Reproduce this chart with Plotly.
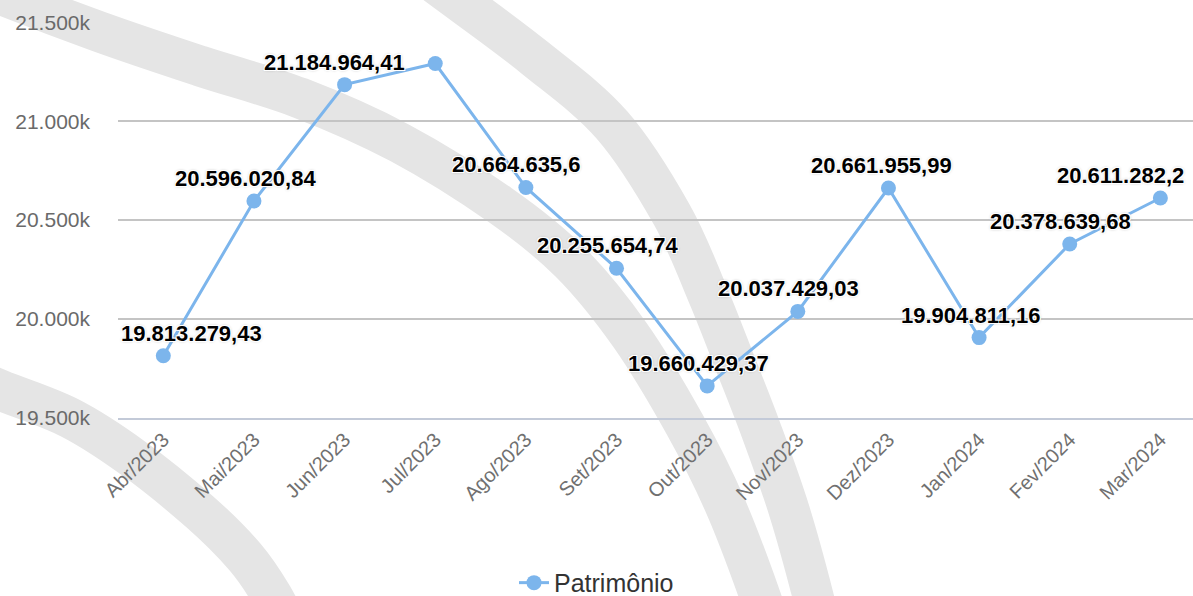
import plotly.graph_objects as go

# ---------------- data ----------------
months = ["Abr/2023", "Mai/2023", "Jun/2023", "Jul/2023", "Ago/2023", "Set/2023",
          "Out/2023", "Nov/2023", "Dez/2023", "Jan/2024", "Fev/2024", "Mar/2024"]
patrimonio = [19813279.43, 20596020.84, 21184964.41, 21292000.00, 20664635.60, 20255654.74,
              19660429.37, 20037429.03, 20661955.99, 19904811.16, 20378639.68, 20611282.20]
hidden_labels = ["Jul/2023"]          # data label not drawn in the reference
y_ticks = [19500000, 20000000, 20500000, 21000000, 21500000]
series_name = "Patrimônio"

# label horizontal nudges (style, px)
label_dx = [28, -8, -10, 0, -10, -9, -9, -9, -7, -9, -9, -40]

FONT = "Liberation Sans, Arial, Helvetica, sans-serif"


def fmt_br(v, decimals=2):
    s = f"{v:,.{decimals}f}"
    s = s.replace(",", "X").replace(".", ",").replace("X", ".")
    if "," in s:
        s = s.rstrip("0").rstrip(",")
    return s


def fmt_k(v):
    return f"{v / 1000:,.0f}".replace(",", ".") + "k"


# ---------------- geometry (plot area in px) ----------------
L, R, T, B = 118, 0, 22, 178
W = 1193 - L - R
H = 596 - T - B


def px2paper(px, py):
    return ((px - L) / W, (T + H - py) / H)


def smooth_path(points):
    pts = [px2paper(*p) for p in points]
    d = f"M {pts[0][0]:.5f},{pts[0][1]:.5f}"
    for i in range(len(pts) - 1):
        p0 = pts[i - 1] if i > 0 else pts[i]
        p1 = pts[i]
        p2 = pts[i + 1]
        p3 = pts[i + 2] if i + 2 < len(pts) else pts[i + 1]
        c1 = (p1[0] + (p2[0] - p0[0]) / 6, p1[1] + (p2[1] - p0[1]) / 6)
        c2 = (p2[0] - (p3[0] - p1[0]) / 6, p2[1] - (p3[1] - p1[1]) / 6)
        d += (f" C {c1[0]:.5f},{c1[1]:.5f} {c2[0]:.5f},{c2[1]:.5f}"
              f" {p2[0]:.5f},{p2[1]:.5f}")
    return d


# decorative watermark arcs in the background (pixel guide points)
watermark_arcs = [
    [(-60, -32), (0, -6), (100, 32), (200, 66), (300, 98), (400, 143), (500, 205),
     (570, 262), (630, 335), (685, 425), (725, 505), (760, 596), (780, 660)],
    [(390, -50), (458, 0), (535, 58), (612, 125), (672, 215), (708, 295), (735, 363),
     (761, 430), (789, 510), (813, 596), (825, 650)],
    [(-60, 365), (0, 390), (70, 418), (133, 458), (200, 512), (245, 557), (272, 596),
     (300, 650)],
]

shapes = [dict(type="path", xref="paper", yref="paper", path=smooth_path(a),
               line=dict(color="#e5e5e5", width=41), layer="below")
          for a in watermark_arcs]

# ---------------- figure ----------------
fig = go.Figure()
fig.add_trace(go.Scatter(
    x=months, y=patrimonio, mode="lines+markers", name=series_name,
    line=dict(color="#7cb5ec", width=3),
    marker=dict(size=15, color="#7cb5ec"),
    cliponaxis=False, hoverinfo="x+y",
))

halo = ("1px 1px 0 #fff, -1px -1px 0 #fff, 1px -1px 0 #fff, -1px 1px 0 #fff, "
        "0 0 3px #999")
annotations = []
for i, (m, v) in enumerate(zip(months, patrimonio)):
    if m in hidden_labels:
        continue
    annotations.append(dict(
        x=m, y=v, xref="x", yref="y", text=fmt_br(v), showarrow=False,
        xanchor="center", yanchor="middle", yshift=22.5, xshift=label_dx[i],
        font=dict(family=FONT, size=22, color="#000000", weight="bold", shadow=halo),
    ))

fig.update_layout(
    width=1193, height=596, autosize=False,
    margin=dict(l=L, r=R, t=T, b=B, pad=0),
    paper_bgcolor="white", plot_bgcolor="rgba(0,0,0,0)",
    font=dict(family=FONT, color="#666666"),
    shapes=shapes, annotations=annotations,
    showlegend=True,
    legend=dict(orientation="h", xref="container", yref="container",
                x=0.5, xanchor="center", y=0.022, yanchor="middle",
                font=dict(family=FONT, size=25, color="#333333"),
                bgcolor="rgba(0,0,0,0)"),
    xaxis=dict(type="category", categoryorder="array", categoryarray=months,
               range=[-0.5, 11.36], showgrid=False, zeroline=False,
               showline=True, linecolor="#c3cad8", linewidth=2, ticks="",
               tickangle=-45, tickfont=dict(family=FONT, size=20, color="#707070"),
               fixedrange=True),
    yaxis=dict(range=[y_ticks[0] - 2000, y_ticks[-1] + 2000], tickmode="array",
               tickvals=y_ticks, ticktext=[fmt_k(v) for v in y_ticks],
               showgrid=True, gridcolor="#c4c4c4", gridwidth=2, zeroline=False,
               showline=False, ticks="", ticklabelstandoff=27,
               tickfont=dict(family=FONT, size=21, color="#6a6a6a"),
               fixedrange=True),
)

fig.write_html("out.html", config={"displayModeBar": False},
               post_script="document.body.style.margin='0';document.body.style.overflow='hidden';")
